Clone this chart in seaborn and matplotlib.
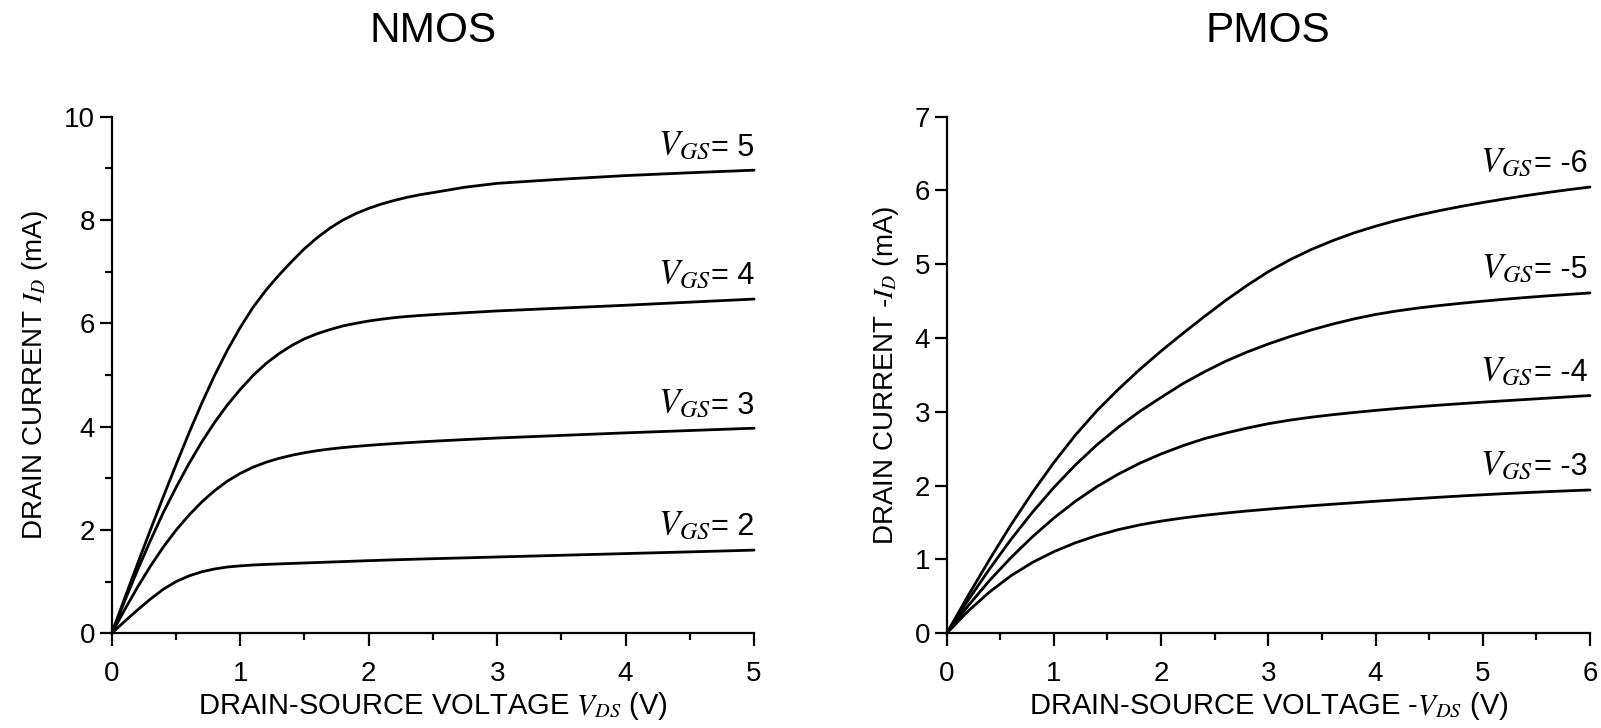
import numpy as np
import pandas as pd
import matplotlib
matplotlib.use("Agg")
import matplotlib.pyplot as plt
from matplotlib.ticker import MultipleLocator
from matplotlib.offsetbox import TextArea, HPacker, AnnotationBbox
import seaborn as sns

# ---- NMOS output characteristics (V_DS in V, I_D in mA) ----
nmos_vds = [0, 0.1, 0.2, 0.3, 0.4, 0.5, 0.6, 0.7, 0.8, 0.9, 1.0, 1.1, 1.2,
            1.3, 1.4, 1.5, 1.6, 1.7, 1.8, 1.9, 2.0, 2.1, 2.2, 2.3, 2.4, 2.5,
            2.75, 3.0, 3.5, 4.0, 4.5, 5.0]
nmos_vgs2 = [0, 0.23, 0.45, 0.66, 0.85, 1.0, 1.11, 1.19, 1.245, 1.283, 1.305,
             1.322, 1.333, 1.343, 1.352, 1.361, 1.37, 1.379, 1.388, 1.397,
             1.406, 1.414, 1.422, 1.43, 1.437, 1.444, 1.46, 1.477, 1.51,
             1.543, 1.576, 1.61]
nmos_vgs3 = [0, 0.455, 0.89, 1.295, 1.665, 1.995, 2.285, 2.54, 2.76, 2.945,
             3.095, 3.215, 3.31, 3.385, 3.445, 3.495, 3.535, 3.568, 3.595,
             3.618, 3.638, 3.656, 3.673, 3.689, 3.704, 3.718, 3.75, 3.78,
             3.83, 3.88, 3.925, 3.97]
nmos_vgs4 = [0, 0.62, 1.22, 1.79, 2.33, 2.82, 3.28, 3.7, 4.08, 4.42, 4.72,
             4.99, 5.22, 5.41, 5.57, 5.7, 5.8, 5.88, 5.95, 6.0, 6.045, 6.08,
             6.11, 6.133, 6.152, 6.168, 6.205, 6.24, 6.295, 6.35, 6.41, 6.47]
nmos_vgs5 = [0, 0.675, 1.34, 1.995, 2.635, 3.26, 3.87, 4.45, 4.99, 5.48, 5.92,
             6.31, 6.64, 6.93, 7.195, 7.445, 7.66, 7.845, 8.0, 8.125, 8.225,
             8.31, 8.38, 8.44, 8.49, 8.53, 8.635, 8.71, 8.79, 8.86, 8.915,
             8.965]
nmos_labels = ["2", "3", "4", "5"]

# ---- PMOS output characteristics (-V_DS in V, -I_D in mA) ----
pmos_vds = [0, 0.2, 0.4, 0.6, 0.8, 1.0, 1.2, 1.4, 1.6, 1.8, 2.0, 2.2, 2.4,
            2.6, 2.8, 3.0, 3.2, 3.4, 3.6, 3.8, 4.0, 4.2, 4.4, 4.6, 4.8, 5.0,
            5.2, 5.4, 5.6, 5.8, 6.0]
pmos_vgs3 = [0, 0.3, 0.56, 0.78, 0.96, 1.106, 1.226, 1.324, 1.404, 1.468,
             1.52, 1.562, 1.598, 1.629, 1.657, 1.682, 1.706, 1.728, 1.749,
             1.769, 1.789, 1.808, 1.826, 1.844, 1.861, 1.877, 1.892, 1.906,
             1.919, 1.931, 1.942]
pmos_vgs4 = [0, 0.372, 0.716, 1.026, 1.308, 1.562, 1.788, 1.986, 2.156, 2.304,
             2.43, 2.54, 2.636, 2.712, 2.78, 2.84, 2.888, 2.928, 2.962, 2.992,
             3.02, 3.046, 3.07, 3.092, 3.112, 3.132, 3.15, 3.168, 3.186,
             3.204, 3.222]
pmos_vgs5 = [0, 0.448, 0.872, 1.272, 1.64, 1.976, 2.28, 2.552, 2.792, 3.006,
             3.196, 3.38, 3.54, 3.685, 3.81, 3.92, 4.02, 4.11, 4.19, 4.26,
             4.32, 4.368, 4.408, 4.442, 4.472, 4.5, 4.526, 4.55, 4.572, 4.592,
             4.612]
pmos_vgs6 = [0, 0.51, 1.0, 1.47, 1.908, 2.314, 2.684, 3.014, 3.304, 3.574,
             3.824, 4.06, 4.288, 4.508, 4.712, 4.9, 5.06, 5.2, 5.32, 5.426,
             5.516, 5.596, 5.666, 5.728, 5.785, 5.837, 5.885, 5.93, 5.972,
             6.011, 6.047]
pmos_labels = ["-3", "-4", "-5", "-6"]

sns.set_theme(style="ticks")
plt.rcParams["font.family"] = ["Liberation Sans", "DejaVu Sans"]
plt.rcParams["mathtext.fontset"] = "stix"
plt.rcParams["axes.linewidth"] = 1.6
plt.rcParams["text.color"] = "black"
plt.rcParams["axes.labelcolor"] = "black"

fig = plt.figure(figsize=(16.01, 7.28), dpi=100)
ax1 = fig.add_axes([0.0698, 0.1301, 0.4012, 0.7096])
ax2 = fig.add_axes([0.5913, 0.1301, 0.4018, 0.7096])


def curve_label(ax, x, y, value, dx):
    """V_GS tag sitting just above the right end of a curve."""
    parts = [TextArea(r"$V_{GS}$", textprops=dict(size=25, color="black")),
             TextArea("= " + value, textprops=dict(size=22, color="black"))]
    box = HPacker(children=parts, align="baseline", pad=0, sep=0)
    ab = AnnotationBbox(box, (x, y), xybox=(dx, 5.5), xycoords="data",
                        boxcoords="offset points", box_alignment=(1, 0),
                        frameon=False, pad=0, annotation_clip=False)
    ax.add_artist(ab)


def draw(ax, vds, curves, labels, xmax, ymax, ymajor, yminor,
         xlabel, ylabel, title, dx):
    for ids, lab in zip(curves, labels):
        df = pd.DataFrame({"vds": vds, "id": ids})
        sns.lineplot(data=df, x="vds", y="id", ax=ax, color="black",
                     linewidth=2.0, clip_on=False)
        curve_label(ax, vds[-1], ids[-1], lab, dx)
    ax.set_xlim(0, xmax)
    ax.set_ylim(0, ymax)
    ax.xaxis.set_major_locator(MultipleLocator(1))
    ax.xaxis.set_minor_locator(MultipleLocator(0.5))
    ax.yaxis.set_major_locator(MultipleLocator(ymajor))
    if yminor:
        ax.yaxis.set_minor_locator(MultipleLocator(yminor))
    ax.tick_params(which="major", direction="out", length=9, width=1.6,
                   labelsize=20, color="black", labelcolor="black")
    ax.tick_params(axis="x", which="major", pad=11)
    ax.tick_params(axis="y", which="major", pad=3)
    ax.tick_params(which="minor", direction="out", length=5, width=1.6,
                   color="black")
    ax.set_xlabel(xlabel, fontsize=21, labelpad=2)
    ax.set_ylabel(ylabel, fontsize=20, labelpad=10)
    sns.despine(ax=ax)
    for s in ("left", "bottom"):
        ax.spines[s].set_color("black")
    bb = ax.get_position()
    fig.text((bb.x0 + bb.x1) / 2, 0.958, title, ha="center", va="center",
             fontsize=30.5)


draw(ax1, nmos_vds, [nmos_vgs2, nmos_vgs3, nmos_vgs4, nmos_vgs5], nmos_labels,
     5, 10, 2, 1, r"DRAIN-SOURCE VOLTAGE $V_{DS}$ (V)",
     r"DRAIN CURRENT $I_D$ (mA)", "NMOS", 0)
draw(ax2, pmos_vds, [pmos_vgs3, pmos_vgs4, pmos_vgs5, pmos_vgs6], pmos_labels,
     6, 7, 1, None, r"DRAIN-SOURCE VOLTAGE -$V_{DS}$ (V)",
     r"DRAIN CURRENT -$I_D$ (mA)", "PMOS", -2)

fig.savefig("out.png", dpi=100, facecolor="white")
